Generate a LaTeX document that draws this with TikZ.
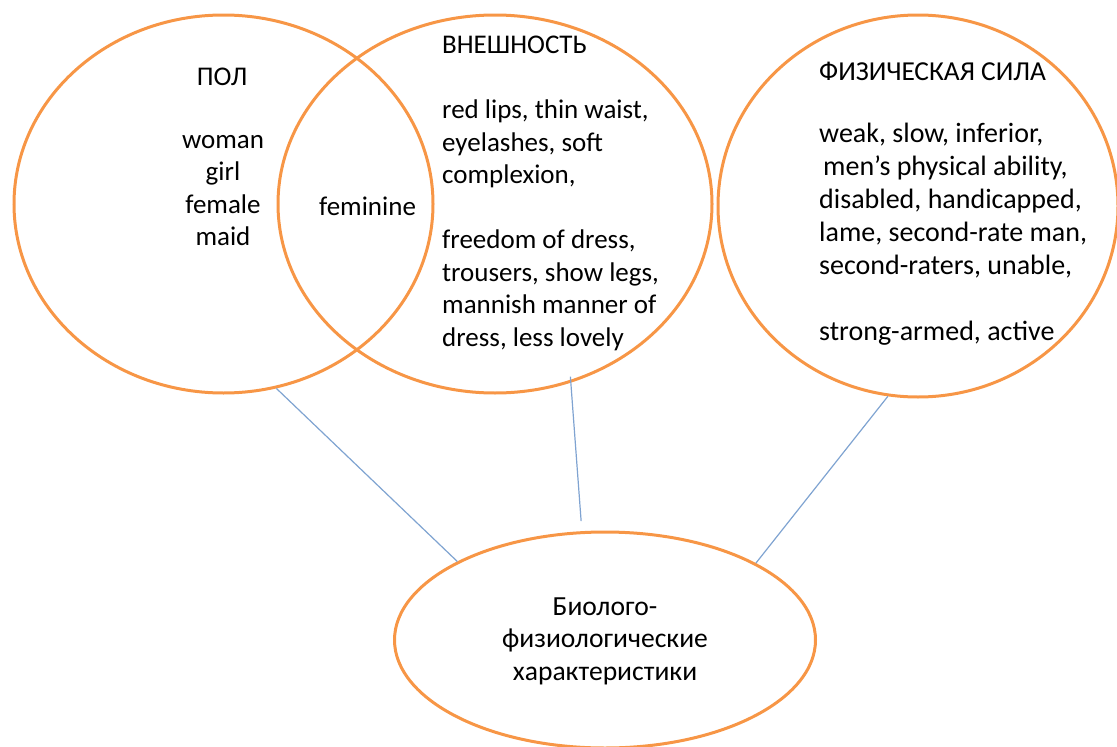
\documentclass[tikz,border=0pt]{standalone}
\usepackage{fontspec}
\setmainfont{Carlito}
\usetikzlibrary{shapes.geometric}
\definecolor{orng}{HTML}{F79646}
\definecolor{lblue}{HTML}{7FA3D1}
\tikzset{
  bub/.style={draw=orng, line width=3pt, ellipse, inner sep=0pt},
  txt/.style={font=\fontsize{27}{32.5}\selectfont, inner sep=0pt, align=left, text=black},
  ctxt/.style={txt, align=center},
  link/.style={draw=lblue, line width=1.2pt}
}
\begin{document}
\begin{tikzpicture}[x=1pt,y=-1pt]
\useasboundingbox (0,0) rectangle (1117,747);
% circles
\node[bub, minimum width=419pt, minimum height=378pt] (pol) at (223.5,204) {};
\node[bub, minimum width=434pt, minimum height=378pt] (app) at (495,204) {};
\node[bub, minimum width=400pt, minimum height=382pt] (phys) at (918,206) {};
\node[bub, minimum width=421pt, minimum height=216pt] (bio) at (605,640) {};
% connectors
\draw[link] (pol.-74.9) -- (bio.152.5);
\draw[link, shorten <=-6pt, shorten >=10pt] (app.-67.8) -- (bio.102.5);
\draw[link] (phys.-99.7) -- (bio.27.2);
% texts (multi-line nodes are anchored at the baseline of their last line)
\node[txt, anchor=base] (tpol) at (222,85) {ПОЛ};
\node[ctxt, anchor=base] (tpolw) at (223,245.5) {woman\\girl\\female\\maid};
\node[txt, anchor=base west] (tfem) at (319,215) {feminine};
\node[txt, anchor=base west] (tapp) at (442,53) {ВНЕШНОСТЬ};
\node[txt, anchor=base west] (tappw) at (442,346) {red lips, thin waist,\\eyelashes, soft\\complexion,\\\mbox{}\\freedom of dress,\\trousers, show legs,\\mannish manner of\\dress, less lovely};
\node[txt, anchor=base west, font=\fontsize{27.4}{33}\selectfont] (tphys) at (819,80) {ФИЗИЧЕСКАЯ СИЛА};
\node[txt, anchor=base west, font=\fontsize{28}{33}\selectfont] (tphysw) at (819,340) {weak, slow, inferior,\\\hspace{4pt}men’s physical ability,\\disabled, handicapped,\\lame, second-rate man,\\second-raters, unable,\\\mbox{}\\strong-armed, active};
\node[ctxt, anchor=base, font=\fontsize{27.6}{32.5}\selectfont] (tbio) at (605,680) {Биолого-\\физиологические\\характеристики};
\end{tikzpicture}
\end{document}
